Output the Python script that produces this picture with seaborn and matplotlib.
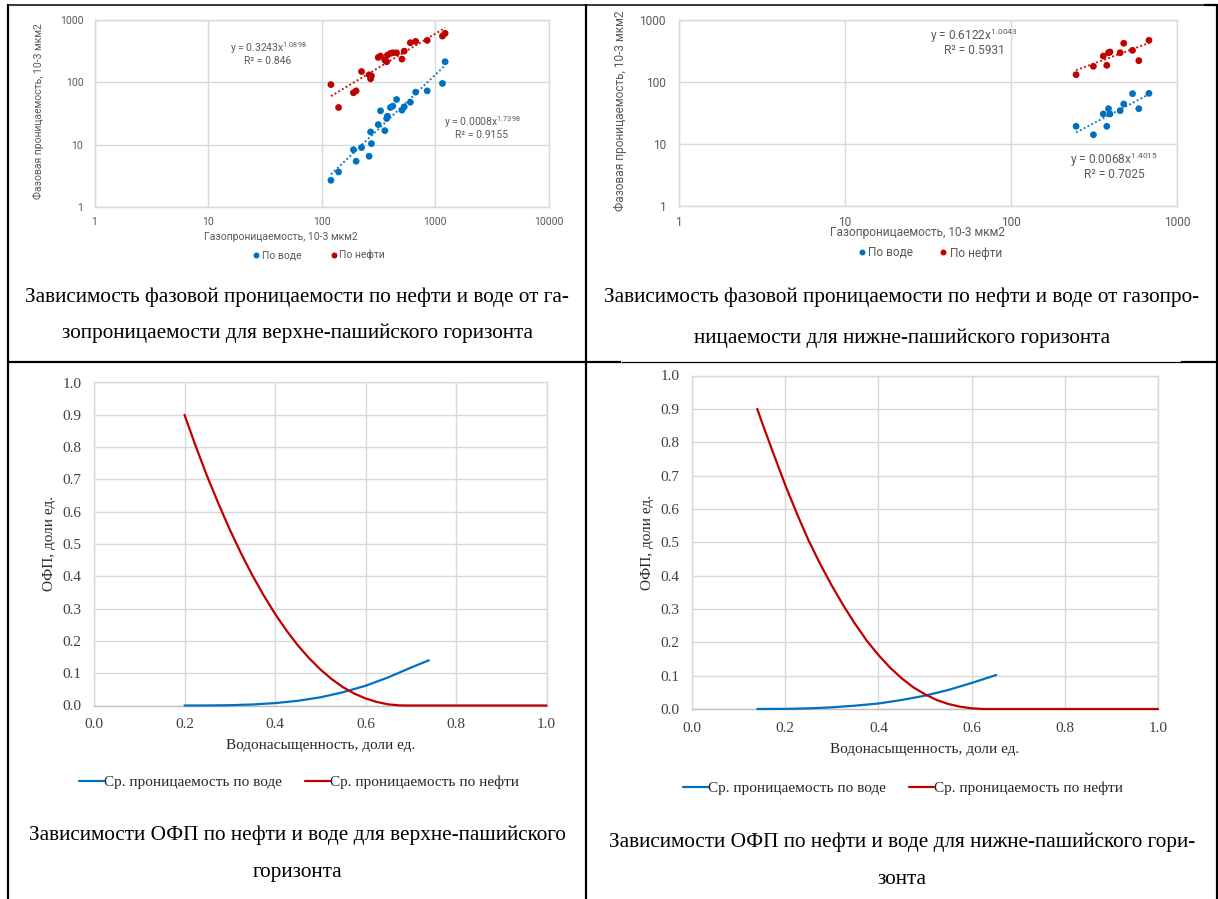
import numpy as np
import pandas as pd
import matplotlib
matplotlib.use("Agg")
import matplotlib.pyplot as plt
from matplotlib.lines import Line2D
import seaborn as sns

# ---------------- data ----------------
# Верхне-пашийский горизонт: газопроницаемость и фазовые проницаемости, 10-3 мкм2
upper_gas = [120.5, 140.6, 190, 200.7, 224, 261, 269, 273.6, 314, 329, 359, 372.8,
             378.7, 402.5, 421.7, 455.7, 508, 532, 602, 671, 847, 1154, 1218]
upper_water = [2.68, 3.65, 8.3, 5.42, 8.98, 6.52, 16.0, 10.4, 21.0, 34.9, 16.8, 26.3,
               28.6, 39.5, 41.5, 53, 35.8, 40.4, 48, 69.6, 73, 96, 214]
upper_oil = [92, 39.5, 68, 73, 149, 132, 114, 127, 251, 264, 227, 214,
             273, 291, 298, 298, 236, 317, 432, 454, 471, 552, 610]
# power trends y = a*x^b, R^2
upper_water_fit = [0.0008, 1.7398, 0.9155]
upper_oil_fit = [0.3243, 1.0898, 0.846]

# Нижне-пашийский горизонт
lower_gas = [247, 314, 360, 378, 387, 395, 455, 478, 540, 589, 678]
lower_water = [19.3, 14.1, 30.5, 19.3, 37.1, 30.5, 34.5, 44.2, 64.8, 37.1, 65.6]
lower_oil = [131, 179, 262, 186, 297, 305, 297, 421, 324, 221, 470]
lower_water_fit = [0.0068, 1.4015, 0.7025]
lower_oil_fit = [0.6122, 1.0043, 0.5931]

# ОФП, верхне-пашийский горизонт
upper_sw_w = [0.20, 0.25, 0.30, 0.35, 0.40, 0.45, 0.50, 0.55, 0.60, 0.65, 0.70, 0.74]
upper_krw = [0.0, 0.0001, 0.0009, 0.0031, 0.0074, 0.0145, 0.0252, 0.041, 0.061, 0.087,
             0.117, 0.14]
upper_sw_o = [0.200, 0.225, 0.250, 0.275, 0.300, 0.325, 0.350, 0.375, 0.400, 0.425,
              0.450, 0.475, 0.500, 0.525, 0.550, 0.575, 0.600, 0.625, 0.650, 0.675,
              0.690, 0.800, 0.900, 1.000]
upper_kro = [0.900, 0.802, 0.710, 0.625, 0.545, 0.471, 0.403, 0.341, 0.284, 0.233,
             0.187, 0.147, 0.112, 0.082, 0.057, 0.037, 0.022, 0.011, 0.0036, 0.0004,
             0.0, 0.0, 0.0, 0.0]

# ОФП, нижне-пашийский горизонт
lower_sw_w = [0.14, 0.20, 0.25, 0.30, 0.35, 0.40, 0.45, 0.50, 0.55, 0.60, 0.653]
lower_krw = [0.0, 0.0004, 0.0019, 0.005, 0.010, 0.0165, 0.027, 0.040, 0.057, 0.078, 0.102]
lower_sw_o = [0.140, 0.150, 0.175, 0.200, 0.225, 0.250, 0.275, 0.300, 0.325, 0.350,
              0.375, 0.400, 0.425, 0.450, 0.475, 0.500, 0.525, 0.550, 0.575, 0.600,
              0.625, 0.700, 0.800, 0.900, 1.000]
lower_kro = [0.900, 0.860, 0.765, 0.672, 0.586, 0.506, 0.435, 0.370, 0.310, 0.255,
             0.205, 0.162, 0.124, 0.092, 0.065, 0.044, 0.027, 0.015, 0.007, 0.002,
             0.0, 0.0, 0.0, 0.0, 0.0]

log_ticks = [1, 10, 100, 1000, 10000]
lin_ticks = [0.0, 0.2, 0.4, 0.6, 0.8, 1.0]
series_names = ["По воде", "По нефти"]
curve_names = ["Ср. проницаемость по воде", "Ср. проницаемость по нефти"]
captions = [
    ["Зависимость фазовой проницаемости по нефти и воде от га-",
     "зопроницаемости для верхне-пашийского горизонта"],
    ["Зависимость фазовой проницаемости по нефти и воде от газопро-",
     "ницаемости для нижне-пашийского горизонта"],
    ["Зависимости ОФП по нефти и воде для верхне-пашийского",
     "горизонта"],
    ["Зависимости ОФП по нефти и воде для нижне-пашийского гори-",
     "зонта"],
]

# ---------------- style ----------------
sns.set_theme(style="white")
plt.rcParams["font.family"] = ["Roboto", "DejaVu Sans"]
plt.rcParams["mathtext.fontset"] = "custom"
plt.rcParams["mathtext.rm"] = "Roboto"
plt.rcParams["mathtext.it"] = "Roboto"

BLUE = "#0070C0"
RED = "#C00000"
GRID = "#d9d9d9"
TXT = "#595959"
SERIF = ["Liberation Serif", "DejaVu Serif"]
KR_FS = 11

W, H = 1218, 899
fig = plt.figure(figsize=(W / 100, H / 100), dpi=100)
fig.patch.set_facecolor("white")


def px_axes(x0, y0, x1, y1):
    return fig.add_axes([x0 / W, 1 - y1 / H, (x1 - x0) / W, (y1 - y0) / H])


def fx(x):
    return x / W


def fy(y):
    return 1 - y / H


def frame(ax):
    for s in ax.spines.values():
        s.set_visible(True)
        s.set_color(GRID)
        s.set_linewidth(1.0)
    ax.grid(True, which="major", color=GRID, linewidth=1.0)
    ax.set_axisbelow(True)
    ax.tick_params(length=0)
    ax.minorticks_off()


def perm_panel(box, gas, water, oil, wfit, ofit, fs, ypad, xpad, xlab_pos, ylab_x,
               leg_pos, eq_oil, eq_water, xmax, colspace):
    ax = px_axes(*box)
    df = pd.DataFrame({
        "gas": list(gas) * 2,
        "perm": list(water) + list(oil),
        "phase": [series_names[0]] * len(gas) + [series_names[1]] * len(gas),
    })
    sns.scatterplot(data=df, x="gas", y="perm", hue="phase",
                    palette={series_names[0]: BLUE, series_names[1]: RED},
                    s=24, edgecolor="none", legend=False, ax=ax, zorder=3)
    xs = np.geomspace(min(gas), max(gas), 60)
    for fit, col in ((wfit, BLUE), (ofit, RED)):
        sns.lineplot(x=xs, y=fit[0] * xs ** fit[1], color=col, ax=ax,
                     linestyle=(0, (1, 1.2)), linewidth=1.4, alpha=0.9,
                     estimator=None, sort=False, zorder=2)
    ax.set_xscale("log")
    ax.set_yscale("log")
    ax.set_xlim(1, xmax)
    ax.set_ylim(1, 1000)
    xt = [t for t in log_ticks if t <= xmax]
    ax.set_xticks(xt)
    ax.set_xticklabels([str(t) for t in xt])
    ax.set_yticks([1, 10, 100, 1000])
    ax.set_yticklabels(["1", "10", "100", "1000"])
    frame(ax)
    ax.tick_params(axis="both", labelsize=fs, labelcolor=TXT)
    ax.tick_params(axis="y", pad=ypad)
    ax.tick_params(axis="x", pad=xpad)
    ax.set_xlabel("")
    ax.set_ylabel("")
    fig.text(fx(xlab_pos[0]), fy(xlab_pos[1]), "Газопроницаемость, 10-3 мкм2",
             ha="center", va="center", fontsize=fs, color=TXT)
    fig.text(fx(ylab_x), fy((box[1] + box[3]) / 2 - 2), "Фазовая проницаемость, 10-3 мкм2",
             ha="center", va="center", rotation=90, fontsize=fs, color=TXT)
    for (cx, cy), fit in ((eq_oil, ofit), (eq_water, wfit)):
        fig.text(fx(cx), fy(cy), "y = %.4fx$^{\\mathrm{%.4f}}$" % (fit[0], fit[1]),
                 ha="center", va="center", fontsize=fs, color=TXT)
        fig.text(fx(cx), fy(cy + 13 * fs / 7.5), "R² = %s" % (("%.4f" % fit[2]).rstrip("0")),
                 ha="center", va="center", fontsize=fs, color=TXT)
    handles = [Line2D([], [], marker="o", linestyle="", markersize=4.3,
                      markerfacecolor=c, markeredgecolor="none") for c in (BLUE, RED)]
    ax.legend(handles, series_names, loc="center", ncol=2, frameon=False,
              bbox_to_anchor=(fx(leg_pos[0]), fy(leg_pos[1])),
              bbox_transform=fig.transFigure, fontsize=fs, labelcolor=TXT,
              handletextpad=0.05, columnspacing=colspace, handlelength=1.0)
    return ax


def kr_panel(box, sw_w, krw, sw_o, kro, xlab_y, ylab_x, leg_pos):
    ax = px_axes(*box)
    sns.lineplot(x=sw_w, y=krw, color=BLUE, linewidth=1.6, ax=ax,
                 estimator=None, sort=False, clip_on=False, zorder=3)
    sns.lineplot(x=sw_o, y=kro, color=RED, linewidth=1.6, ax=ax,
                 estimator=None, sort=False, clip_on=False, zorder=3)
    for ln in ax.lines:
        ln.set_solid_joinstyle("round")
    ax.set_xlim(0, 1)
    ax.set_ylim(0, 1)
    ax.set_xticks(lin_ticks)
    ax.set_xticklabels(["%.1f" % t for t in lin_ticks])
    yt = np.round(np.arange(0, 1.01, 0.1), 1)
    ax.set_yticks(yt)
    ax.set_yticklabels(["%.1f" % t for t in yt])
    frame(ax)
    ax.spines["bottom"].set_color("#bfbfbf")
    for lab in ax.get_xticklabels() + ax.get_yticklabels():
        lab.set_fontfamily(SERIF)
        lab.set_fontsize(KR_FS)
        lab.set_color("#404040")
    ax.tick_params(axis="y", pad=9)
    ax.tick_params(axis="x", pad=9)
    ax.set_xlabel("")
    ax.set_ylabel("")
    fig.text(fx((box[0] + box[2]) / 2), fy(xlab_y), "Водонасыщенность, доли ед.",
             ha="center", va="center", family=SERIF, fontsize=KR_FS, color="#262626")
    fig.text(fx(ylab_x), fy((box[1] + box[3]) / 2), "ОФП, доли ед.",
             ha="center", va="center", rotation=90, family=SERIF, fontsize=KR_FS,
             color="#262626")
    handles = [Line2D([], [], color=c, linewidth=1.6) for c in (BLUE, RED)]
    ax.legend(handles, curve_names, loc="center", ncol=2, frameon=False,
              bbox_to_anchor=(fx(leg_pos[0]), fy(leg_pos[1])),
              bbox_transform=fig.transFigure,
              prop={"family": SERIF, "size": KR_FS}, labelcolor="#262626",
              handletextpad=0.0, columnspacing=1.5, handlelength=1.65)
    return ax


perm_panel((94.5, 20, 549, 207), upper_gas, upper_water, upper_oil,
           upper_water_fit, upper_oil_fit, fs=7.5, ypad=8, xpad=7,
           xlab_pos=(281, 237), ylab_x=38, leg_pos=(318, 255),
           eq_oil=(268, 48), eq_water=(482, 122), xmax=10000, colspace=2.6)
perm_panel((678.5, 20, 1177, 206), lower_gas, lower_water, lower_oil,
           lower_water_fit, lower_oil_fit, fs=8.6, ypad=9, xpad=7,
           xlab_pos=(917, 233), ylab_x=620, leg_pos=(929, 253),
           eq_oil=(974, 36), eq_water=(1114, 160), xmax=1000, colspace=2.0)

kr_panel((94, 382.5, 546.5, 705.5), upper_sw_w, upper_krw, upper_sw_o, upper_kro,
         xlab_y=746, ylab_x=50, leg_pos=(299, 782))
kr_panel((692, 375.5, 1158, 709), lower_sw_w, lower_krw, lower_sw_o, lower_kro,
         xlab_y=749, ylab_x=648, leg_pos=(903, 788))

# captions
cap_pos = [((297, 297), (297, 333)), ((902, 297), (902, 338)),
           ((297, 835), (297, 873)), ((902, 842), (902, 880))]
for lines, pos in zip(captions, cap_pos):
    for text, (cx, cy) in zip(lines, pos):
        fig.text(fx(cx), fy(cy), text, ha="center", va="center",
                 family=SERIF, fontsize=15.3, color="black")


# table grid
def hline(y, x0, x1, lw):
    fig.add_artist(Line2D([fx(x0), fx(x1)], [fy(y), fy(y)], color="black",
                          linewidth=lw, solid_capstyle="butt"))


def vline(x, y0, y1, lw):
    fig.add_artist(Line2D([fx(x), fx(x)], [fy(y0), fy(y1)], color="black",
                          linewidth=lw, solid_capstyle="butt"))


hline(5, 8, 1204, 1.1)
hline(5, 1204, 1218, 1.6)
vline(8, 4, 899, 1.6)
vline(586, 4, 899, 1.6)
vline(1217, 4, 899, 1.6)
hline(362, 8, 621, 1.6)
hline(362, 621, 1181, 0.9)
hline(362, 1181, 1218, 1.6)

fig.savefig("out.png", dpi=100, facecolor="white")
